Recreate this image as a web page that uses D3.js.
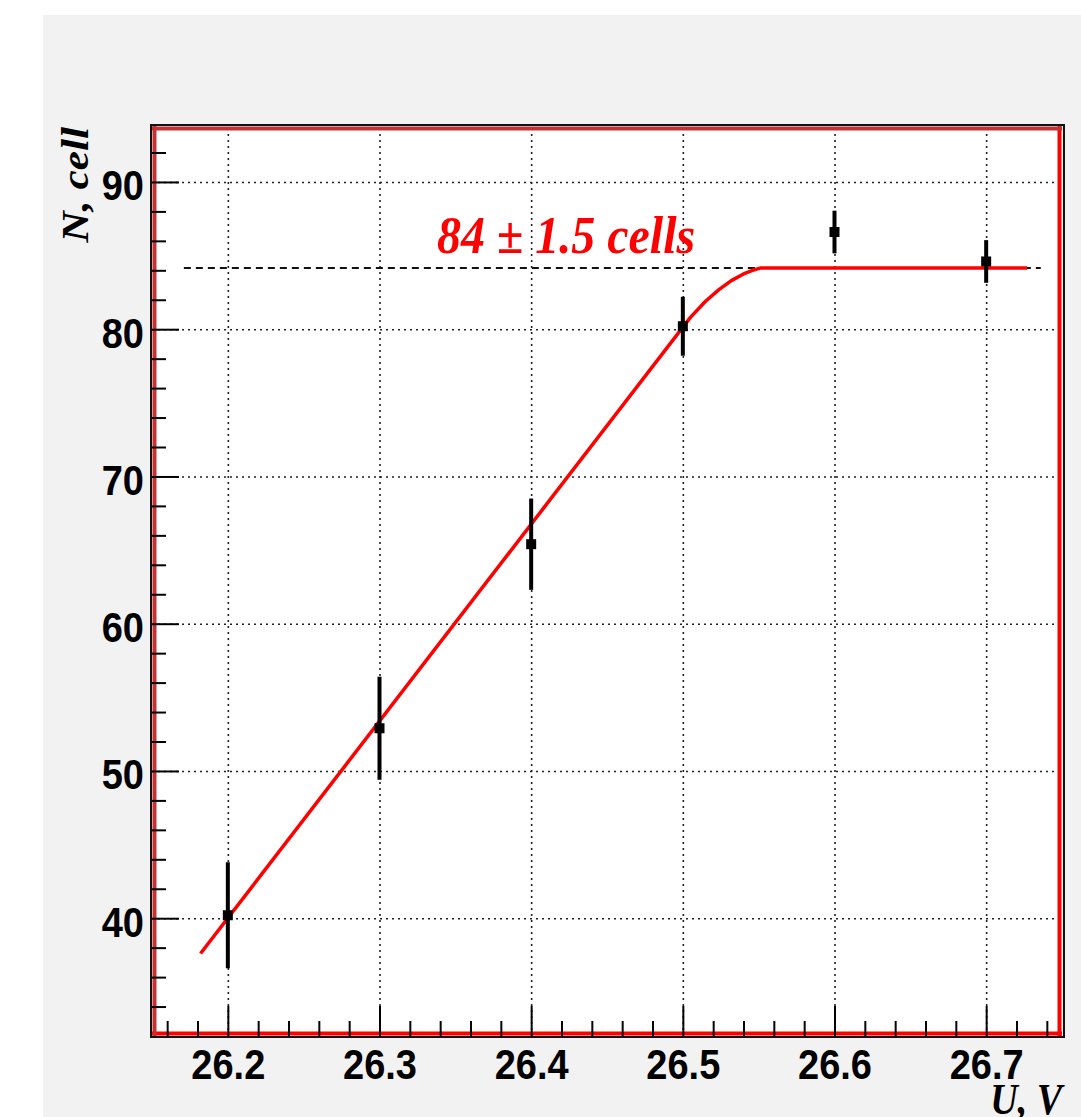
<!DOCTYPE html>
<html><head><meta charset="utf-8">
<script src="https://cdn.jsdelivr.net/npm/d3@7"></script>
<style>body{margin:0;background:#fff;overflow:hidden}</style>
</head><body><svg id="c" width="1081" height="1117"></svg>
<script>
// ---- data ----
const voltages = [26.2, 26.3, 26.4, 26.5, 26.6, 26.7];
const cells = [40.2, 52.9, 65.4, 80.2, 86.6, 84.6];
const cellErrors = [3.6, 3.5, 3.1, 2.0, 1.45, 1.45];
const fitU = [26.182, 26.505, 26.515, 26.524, 26.532, 26.54, 26.546, 26.551, 26.727];
const fitN = [37.6, 80.8, 81.9, 82.7, 83.3, 83.75, 84.0, 84.15, 84.15];
const plateauLevel = 84.15;
const plateauU = [26.171, 26.736];
const xMajor = [26.2, 26.3, 26.4, 26.5, 26.6, 26.7];
const xMinor = [26.16,26.18,26.22,26.24,26.26,26.28,26.32,26.34,26.36,26.38,26.42,26.44,26.46,26.48,26.52,26.54,26.56,26.58,26.62,26.64,26.66,26.68,26.72,26.74];
const yMajor = [40, 50, 60, 70, 80, 90];
const yMinor = [34,36,38,42,44,46,48,52,54,56,58,62,64,66,68,72,74,76,78,82,84,86,88,92];
const annotationText = "84 \u00B1 1.5 cells";
const xTitle = "U, V";
const yTitle = "N, cell";

// ---- layout ----
const L = 152, R = 1062, T = 126, B = 1036;
const SY = 1.14; // vertical stretch of the picture's text
const svg = d3.select("#c");
const x = d3.scaleLinear([26.15, 26.75], [L, R]);
const y = d3.scaleLinear([32, 93.8], [B, T]);

svg.append("rect").attr("x", 43).attr("y", 15).attr("width", 1081 - 43).attr("height", 1117 - 15).attr("fill", "#f2f2f2");
svg.append("rect").attr("x", L).attr("y", T).attr("width", R - L).attr("height", B - T).attr("fill", "#fff");

// grid
const gx = svg.append("g").attr("transform", `translate(0,${B})`)
  .call(d3.axisBottom(x).tickValues(xMajor).tickSize(-(B - T)).tickFormat(""));
const gy = svg.append("g").attr("transform", `translate(${L},0)`)
  .call(d3.axisLeft(y).tickValues(yMajor).tickSize(-(R - L)).tickFormat(""));
[gx, gy].forEach(g => {
  g.select(".domain").remove();
  g.selectAll("line").attr("stroke", "#222").attr("stroke-width", 1.6).attr("stroke-dasharray", "2,4");
});

// frame
svg.append("rect").attr("x", 151).attr("y", 125).attr("width", 913).attr("height", 912)
  .attr("fill", "none").attr("stroke", "#111").attr("stroke-width", 2);
svg.append("line").attr("x1", R - 2.5).attr("x2", R - 2.5).attr("y1", T).attr("y2", B).attr("stroke", "#ff0000").attr("stroke-width", 4);
svg.append("line").attr("x1", L).attr("x2", R).attr("y1", B - 2.5).attr("y2", B - 2.5).attr("stroke", "#ff0000").attr("stroke-width", 4);
svg.append("line").attr("x1", L + 2.5).attr("x2", L + 2.5).attr("y1", T).attr("y2", B).attr("stroke", "#c43232").attr("stroke-width", 4);
svg.append("line").attr("x1", L).attr("x2", R).attr("y1", T + 2.5).attr("y2", T + 2.5).attr("stroke", "#c43232").attr("stroke-width", 4);

// axes ticks
function styleTicks(g) {
  g.select(".domain").remove();
  g.selectAll("line").attr("stroke", "#000").attr("stroke-width", 2);
}
const xMinorG = svg.append("g").attr("transform", `translate(0,${B})`)
  .call(d3.axisBottom(x).tickValues(xMinor).tickSize(-15).tickFormat(""));
styleTicks(xMinorG);
const xMajorG = svg.append("g").attr("transform", `translate(0,${B})`)
  .call(d3.axisBottom(x).tickValues(xMajor).tickSize(-30).tickFormat(d3.format(".1f")));
styleTicks(xMajorG);
xMajorG.selectAll("text")
  .attr("y", 0).attr("dy", null)
  .attr("transform", `translate(0,43) scale(1,${SY})`)
  .attr("text-anchor", "middle")
  .style("font-family", "'Liberation Sans', Arial, sans-serif")
  .style("font-weight", "bold").style("font-size", "38px").attr("fill", "#000");

const yMinorG = svg.append("g").attr("transform", `translate(${L},0)`)
  .call(d3.axisLeft(y).tickValues(yMinor).tickSize(-14).tickFormat(""));
styleTicks(yMinorG);
const yMajorG = svg.append("g").attr("transform", `translate(${L},0)`)
  .call(d3.axisLeft(y).tickValues(yMajor).tickSize(-27).tickFormat(d3.format("d")));
styleTicks(yMajorG);
yMajorG.selectAll("text")
  .attr("x", 0).attr("dy", null)
  .attr("transform", `translate(-8,18) scale(1,${SY})`)
  .attr("text-anchor", "end")
  .style("font-family", "'Liberation Sans', Arial, sans-serif")
  .style("font-weight", "bold").style("font-size", "38px").attr("fill", "#000");

// plateau dashed line
svg.append("line")
  .attr("x1", x(plateauU[0])).attr("x2", x(plateauU[1]))
  .attr("y1", y(plateauLevel)).attr("y2", y(plateauLevel))
  .attr("stroke", "#111").attr("stroke-width", 2).attr("stroke-dasharray", "7,5");

// fit curve
const fitPts = fitU.map((u, i) => [u, fitN[i]]);
svg.append("path").datum(fitPts)
  .attr("d", d3.line().x(d => x(d[0])).y(d => y(d[1])))
  .attr("fill", "none").attr("stroke", "#ff0000").attr("stroke-width", 3.5)
  .attr("stroke-linejoin", "round");

// data points with error bars
const pts = voltages.map((u, i) => ({u, n: cells[i], e: cellErrors[i]}));
svg.append("g").selectAll("line").data(pts).join("line")
  .attr("x1", d => x(d.u)).attr("x2", d => x(d.u))
  .attr("y1", d => y(d.n - d.e)).attr("y2", d => y(d.n + d.e))
  .attr("stroke", "#000").attr("stroke-width", 4);
svg.append("g").selectAll("rect").data(pts).join("rect")
  .attr("x", d => x(d.u) - 5).attr("y", d => y(d.n) - 5)
  .attr("width", 10).attr("height", 10).attr("fill", "#000");

// texts
svg.append("text").text(annotationText)
  .attr("transform", `translate(437,253) scale(1,1.08)`)
  .style("font-family", "'Liberation Serif', 'Times New Roman', serif")
  .style("font-weight", "bold").style("font-style", "italic").style("font-size", "48px")
  .attr("fill", "#ff0000");
svg.append("text").text(yTitle)
  .attr("transform", `translate(88,127) scale(1,${SY}) rotate(-90)`)
  .attr("text-anchor", "end")
  .style("font-family", "'Liberation Serif', 'Times New Roman', serif")
  .style("font-weight", "bold").style("font-style", "italic").style("font-size", "38px")
  .attr("fill", "#000");
svg.append("text").text(xTitle)
  .attr("transform", `translate(1062,1114) scale(1,${SY})`)
  .attr("text-anchor", "end")
  .style("font-family", "'Liberation Serif', 'Times New Roman', serif")
  .style("font-weight", "bold").style("font-style", "italic").style("font-size", "38px")
  .attr("fill", "#000");
</script></body></html>
